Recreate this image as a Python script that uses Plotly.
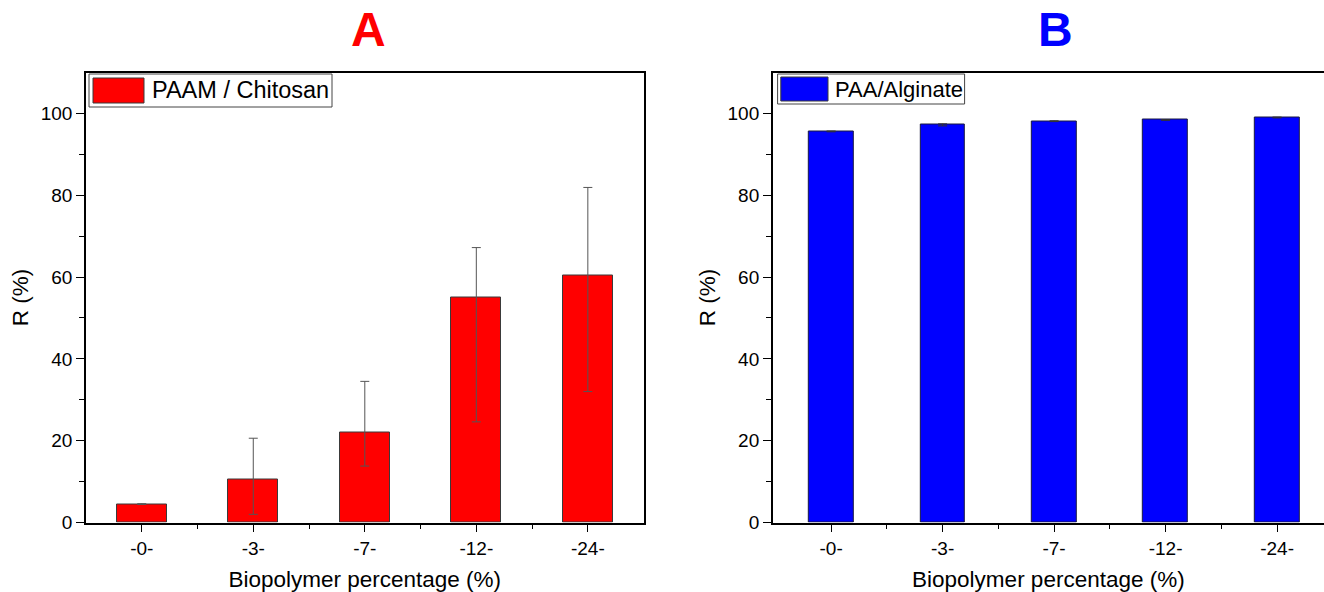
import plotly.graph_objects as go

categories = ["-0-", "-3-", "-7-", "-12-", "-24-"]

# Panel A: PAAM / Chitosan
a_values = [4.5, 10.4, 22.0, 55.1, 60.4]
a_err_plus = [0.1, 10.2, 12.5, 12.1, 21.5]
a_err_minus = [0.1, 8.4, 8.2, 30.5, 28.4]

# Panel B: PAA/Alginate
b_values = [95.6, 97.2, 98.1, 98.4, 99.0]
b_err = [0.1, 0.25, 0.1, 0.1, 0.1]

y_ticks = [0, 20, 40, 60, 80, 100]
y_minor = [10, 30, 50, 70, 90]

W, H = 1324, 592
FONT = "Liberation Sans, Arial, sans-serif"

xpos = list(range(len(categories)))

fig = go.Figure()

fig.add_trace(go.Bar(
    x=xpos, y=a_values, width=0.45, name="PAAM / Chitosan",
    marker=dict(color="#ff0000", line=dict(color="#3a3a3a", width=1)),
    error_y=dict(type="data", symmetric=False, array=a_err_plus, arrayminus=a_err_minus,
                 color="#555555", thickness=1, width=4.5),
    xaxis="x", yaxis="y", showlegend=False,
))
fig.add_trace(go.Bar(
    x=xpos, y=b_values, width=0.40, name="PAA/Alginate",
    marker=dict(color="#0000ff", line=dict(color="#1a1a40", width=1)),
    error_y=dict(type="data", array=b_err, color="#333333", thickness=1, width=4.5),
    xaxis="x2", yaxis="y2", showlegend=False,
))

ydom = [1 - 522.5 / H, 1 - 72.5 / H]

def xaxis_cfg(domain, rng, anchor):
    return dict(
        domain=domain, range=rng, anchor=anchor, automargin=False,
        tickmode="array", tickvals=xpos, ticktext=categories,
        ticks="outside", ticklen=8, tickwidth=1.3, tickcolor="black",
        minor=dict(tickmode="array", tickvals=[0.5, 1.5, 2.5, 3.5], ticks="outside",
                   ticklen=5, tickwidth=1.3, tickcolor="black"),
        showline=True, linecolor="black", linewidth=1.5, mirror=True,
        showgrid=False, zeroline=False,
        tickfont=dict(family=FONT, size=19, color="black"),
        title=dict(text="Biopolymer percentage (%)", font=dict(family=FONT, size=22.5, color="black"),
                   standoff=14),
    )

def yaxis_cfg(anchor):
    return dict(
        domain=ydom, range=[0, 110], anchor=anchor, automargin=False,
        tickmode="array", tickvals=y_ticks,
        ticks="outside", ticklen=8, tickwidth=1.3, tickcolor="black",
        minor=dict(tickmode="array", tickvals=y_minor, ticks="outside",
                   ticklen=5, tickwidth=1.3, tickcolor="black"),
        showline=True, linecolor="black", linewidth=1.5, mirror=True,
        showgrid=False, zeroline=False,
        tickfont=dict(family=FONT, size=19, color="black"),
        title=dict(text="R (%)", font=dict(family=FONT, size=22.5, color="black"), standoff=6),
    )

def px(x):
    return x / W

def py(y):
    return 1 - y / H

shapes = []
annotations = []

def legend(box, swatch, color, text, tx, size):
    shapes.append(dict(type="rect", xref="paper", yref="paper",
                       x0=px(box[0]), x1=px(box[2]), y0=py(box[3]), y1=py(box[1]),
                       line=dict(color="#444444", width=1), fillcolor="white"))
    shapes.append(dict(type="rect", xref="paper", yref="paper",
                       x0=px(swatch[0]), x1=px(swatch[2]), y0=py(swatch[3]), y1=py(swatch[1]),
                       line=dict(color="#3a3a3a", width=1), fillcolor=color))
    annotations.append(dict(xref="paper", yref="paper", x=px(tx), y=py((box[1] + box[3]) / 2),
                            xanchor="left", yanchor="middle", showarrow=False, text=text,
                            font=dict(family=FONT, size=size, color="black")))

legend((89, 74, 332, 107), (93, 78, 144, 103), "#ff0000", "PAAM / Chitosan", 150, 23.5)
legend((777.6, 74, 964.6, 104), (780.8, 77, 828, 101), "#0000ff", "PAA/Alginate", 833, 22)

annotations.append(dict(xref="paper", yref="paper", x=px(368), y=py(30), xanchor="center",
                        yanchor="middle", showarrow=False, text="<b>A</b>",
                        font=dict(family=FONT, size=48, color="#ff0000")))
annotations.append(dict(xref="paper", yref="paper", x=px(1055), y=py(30), xanchor="center",
                        yanchor="middle", showarrow=False, text="<b>B</b>",
                        font=dict(family=FONT, size=48, color="#0000ff")))

fig.update_layout(
    width=W, height=H,
    margin=dict(l=0, r=0, t=0, b=0, autoexpand=False),
    paper_bgcolor="white", plot_bgcolor="white",
    xaxis=xaxis_cfg([86 / W, 643.6 / W], [-0.5, 4.5], "y"),
    yaxis=yaxis_cfg("x"),
    xaxis2=xaxis_cfg([772.8 / W, 1.0], [-0.523, 4.421], "y2"),
    yaxis2=yaxis_cfg("x2"),
    shapes=shapes, annotations=annotations,
    showlegend=False, bargap=0,
)

fig.write_html("out.html")
